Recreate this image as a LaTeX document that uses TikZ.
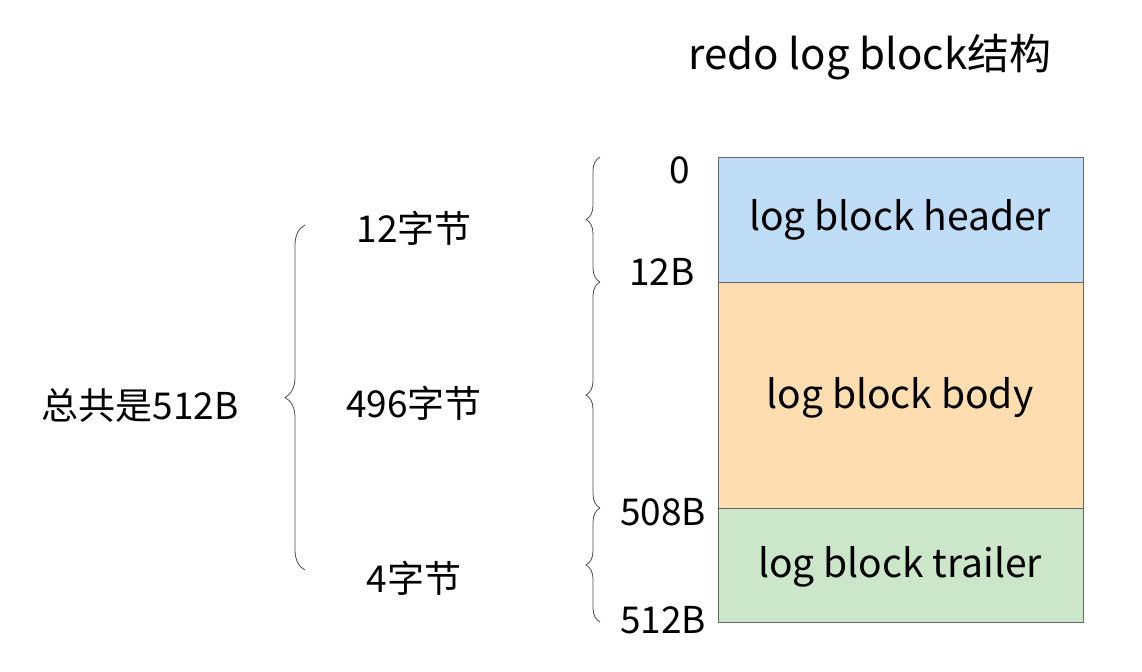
\documentclass[tikz,border=0pt]{standalone}
\usepackage{fontspec}
\setmainfont{Noto Sans CJK SC}
\usetikzlibrary{decorations.pathreplacing}
\definecolor{hdrblue}{HTML}{BFDDF7}
\definecolor{bodyorange}{HTML}{FEDEB0}
\definecolor{trlgreen}{HTML}{CBE6C9}
\tikzset{
  part/.style={draw=black!60, thin},
  lbl/.style={font=\fontsize{18.5}{22}\selectfont},
  txt/.style={font=\fontsize{19.5}{23}\selectfont},
  brc/.style={draw=black!70, decorate, decoration={brace, amplitude=7pt}}
}
\begin{document}
\begin{tikzpicture}[x=0.5pt, y=-0.5pt]
\useasboundingbox (0,0) rectangle (1142,671);
\node[font=\fontsize{21}{25}\selectfont] (title) at (870,57) {redo log block结构};
\draw[part, fill=hdrblue] (718,157) rectangle (1083,282);
\draw[part, fill=bodyorange] (718,282) rectangle (1083,508);
\draw[part, fill=trlgreen] (718,508) rectangle (1083,622);
\node[txt] (hdr) at (900,220) {log block header};
\node[txt] (body) at (900,398) {log block body};
\node[txt] (trl) at (900,567) {log block trailer};
\node[lbl] (o0) at (680,170) {0};
\node[lbl] (o12) at (662,272) {12B};
\node[lbl] (o508) at (663,512) {508B};
\node[lbl] (o512) at (663,620) {512B};
\node[lbl] (s12) at (414,228) {12字节};
\node[lbl] (s496) at (414,403) {496字节};
\node[lbl] (s4) at (414,578) {4字节};
\node[lbl] (total) at (140,405) {总共是512B};
\coordinate (b0) at (600,157);
\coordinate (b1) at (600,282);
\coordinate (b2) at (600,508);
\coordinate (b3) at (600,622);
\coordinate (t0) at (305,225);
\coordinate (t1) at (305,570);
\draw[brc] (b1) -- (b0);
\draw[brc] (b2) -- (b1);
\draw[brc] (b3) -- (b2);
\draw[brc, decoration={amplitude=10pt}] (t1) -- (t0);
\end{tikzpicture}
\end{document}
